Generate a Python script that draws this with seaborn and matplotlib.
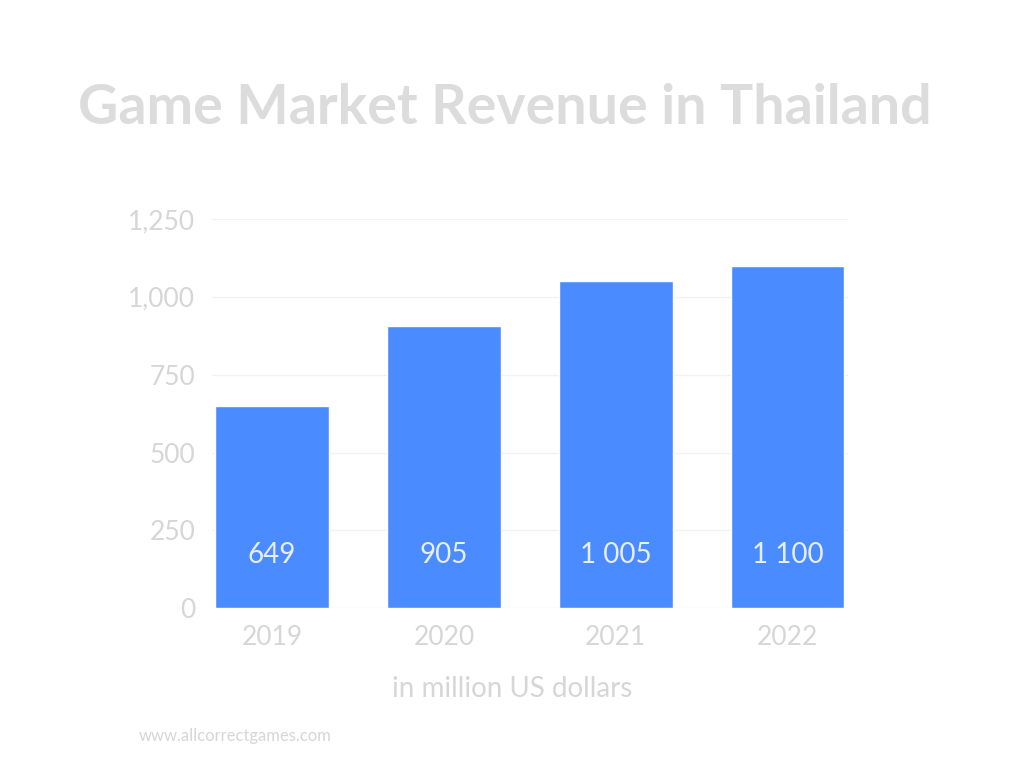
import matplotlib
matplotlib.use("Agg")
import matplotlib.pyplot as plt
import seaborn as sns
import pandas as pd

years = ["2019", "2020", "2021", "2022"]
values = [649, 905, 1050, 1100]
labels = ["649", "905", "1 005", "1 100"]
yticks = [0, 250, 500, 750, 1000, 1250]
ytick_labels = ["0", "250", "500", "750", "1,000", "1,250"]

sns.set_theme(style="white")
plt.rcParams['font.family'] = ['Lato', 'DejaVu Sans']
grey = "#d6d6d6"

fig = plt.figure(figsize=(10.24, 7.68), dpi=100)
ax = fig.add_axes([0.207, 0.208, 0.621, 0.507])
df = pd.DataFrame({"year": years, "value": values})
sns.barplot(data=df, x="year", y="value", color="#4a8cff", saturation=1, width=0.66, ax=ax, zorder=3)
ax.set_xlim(-0.35, 3.35)
ax.set_ylim(0, 1250)
ax.set_yticks(yticks)
ax.set_yticklabels(ytick_labels)
ax.yaxis.grid(True, color="#f2f2f2", linewidth=1, zorder=0)
for s in ax.spines.values():
    s.set_visible(False)
ax.tick_params(axis="both", length=0, colors=grey, labelsize=19)
ax.tick_params(axis="y", pad=12)
ax.tick_params(axis="x", pad=12)
ax.set_ylabel("")
ax.set_xlabel("in million US dollars", color=grey, fontsize=20)
ax.xaxis.set_label_coords(0.472, -0.175)
for i, lab in enumerate(labels):
    ax.text(i, 170, lab, ha="center", va="center", color="#e8eefc", fontsize=20, zorder=4)
fig.text(0.493, 0.86, "Game Market Revenue in Thailand", ha="center", va="center",
         fontsize=40, color="#dcdcdc", fontweight="bold")
fig.text(0.135, 0.042, "www.allcorrectgames.com", ha="left", va="center", fontsize=12, color="#d6d6d6")
fig.savefig("out.png", dpi=100)
